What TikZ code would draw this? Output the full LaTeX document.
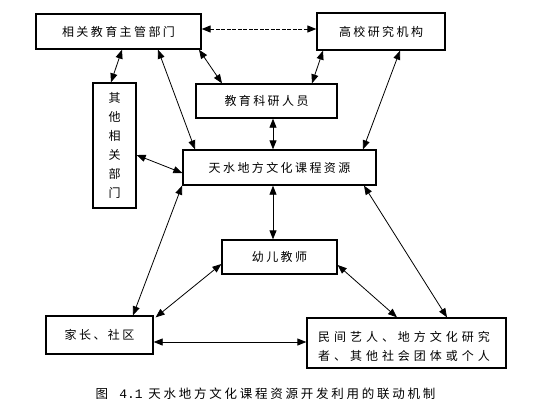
\documentclass[tikz,border=0pt]{standalone}
\usepackage{fontspec}
\setmainfont{Liberation Serif}
\newfontfamily\cjk[LetterSpace=20]{Noto Sans CJK SC}
\newfontfamily\cjkwide[LetterSpace=33]{Noto Sans CJK SC}
\newfontfamily\cjkcap[LetterSpace=22]{Noto Sans CJK SC}
\usetikzlibrary{arrows.meta}
\begin{document}
\begin{tikzpicture}[x=1pt,y=-1pt,
  box/.style={draw, line width=1.3pt, inner sep=0pt, font=\cjk\fontsize{12}{19}\selectfont},
  arr/.style={{Triangle[length=9pt,width=7pt]}-{Triangle[length=9pt,width=7pt]}, line width=0.8pt},
  txt/.style={inner sep=0pt, align=left}]
\useasboundingbox (0,0) rectangle (543,408);
\node[box, minimum width=165pt, minimum height=35pt] (a) at (118.5,31.5) {相关教育主管部门};
\node[box, minimum width=128pt, minimum height=37pt] (b) at (381,31.5) {高校研究机构};
\node[box, minimum width=43pt, minimum height=125pt, align=center] (c) at (114.5,145.5) {其\\他\\相\\关\\部\\门};
\node[box, minimum width=141pt, minimum height=34pt] (d) at (266.5,101) {教育科研人员};
\node[box, minimum width=193pt, minimum height=35pt] (e) at (279.5,167.5) {天水地方文化课程资源};
\node[box, minimum width=115pt, minimum height=34pt] (f) at (279.5,257) {幼儿教师};
\node[box, minimum width=107pt, minimum height=38pt] (g) at (99.5,335) {家长、社区};
\node[box, minimum width=199pt, minimum height=50pt] (h) at (406.5,343) {};
\node[txt, anchor=west, font=\cjkwide\fontsize{12}{19}\selectfont] (ht) at (318,346.5) {民间艺人、地方文化研究\\者、其他社会团体或个人};

\draw[arr, line width=1pt, dash pattern=on 4pt off 1.5pt] ([yshift=2.5pt]a.east) -- ([yshift=2.5pt]b.west);
\draw[arr] ([xshift=3.5pt]a.south) -- ([xshift=-3.5pt]c.north);
\draw[arr] ([xshift=39.5pt]a.south) -- ([xshift=-84.5pt]e.north);
\draw[arr] ([xshift=80.5pt]a.south) -- ([xshift=-44.5pt]d.north);
\draw[arr] ([xshift=-58pt]b.south) -- ([xshift=45.5pt]d.north);
\draw[arr] ([xshift=19pt]b.south) -- ([xshift=83.5pt]e.north);
\draw[arr] ([xshift=6.5pt]d.south) -- ([xshift=-6.5pt]e.north);
\draw[arr] ([yshift=-9.5pt]c.east) -- ([yshift=-5.5pt]e.west);
\draw[arr] ([xshift=-6.5pt]e.south) -- ([xshift=-6.5pt]f.north);
\draw[arr] ([xshift=-97.5pt]e.south) -- ([xshift=33.5pt]g.north);
\draw[arr] ([xshift=84.5pt]e.south) -- ([xshift=40.5pt]h.north);
\draw[arr] ([yshift=-7pt]f.west) -- ([xshift=2pt,yshift=-2pt]g.north east);
\draw[arr] ([yshift=-8pt]f.east) -- ([xshift=-9.5pt]h.north);
\draw[arr] ([yshift=-7pt]g.east) -- ([yshift=1pt]h.west);

\node[inner sep=0pt, font=\cjkcap\fontsize{12.5}{14}\selectfont] (cap) at (265.5,394) {图\ \ {\fontspec{Liberation Mono}\fontsize{13}{14}\selectfont 4.1} 天水地方文化课程资源开发利用的联动机制};
\end{tikzpicture}
\end{document}
